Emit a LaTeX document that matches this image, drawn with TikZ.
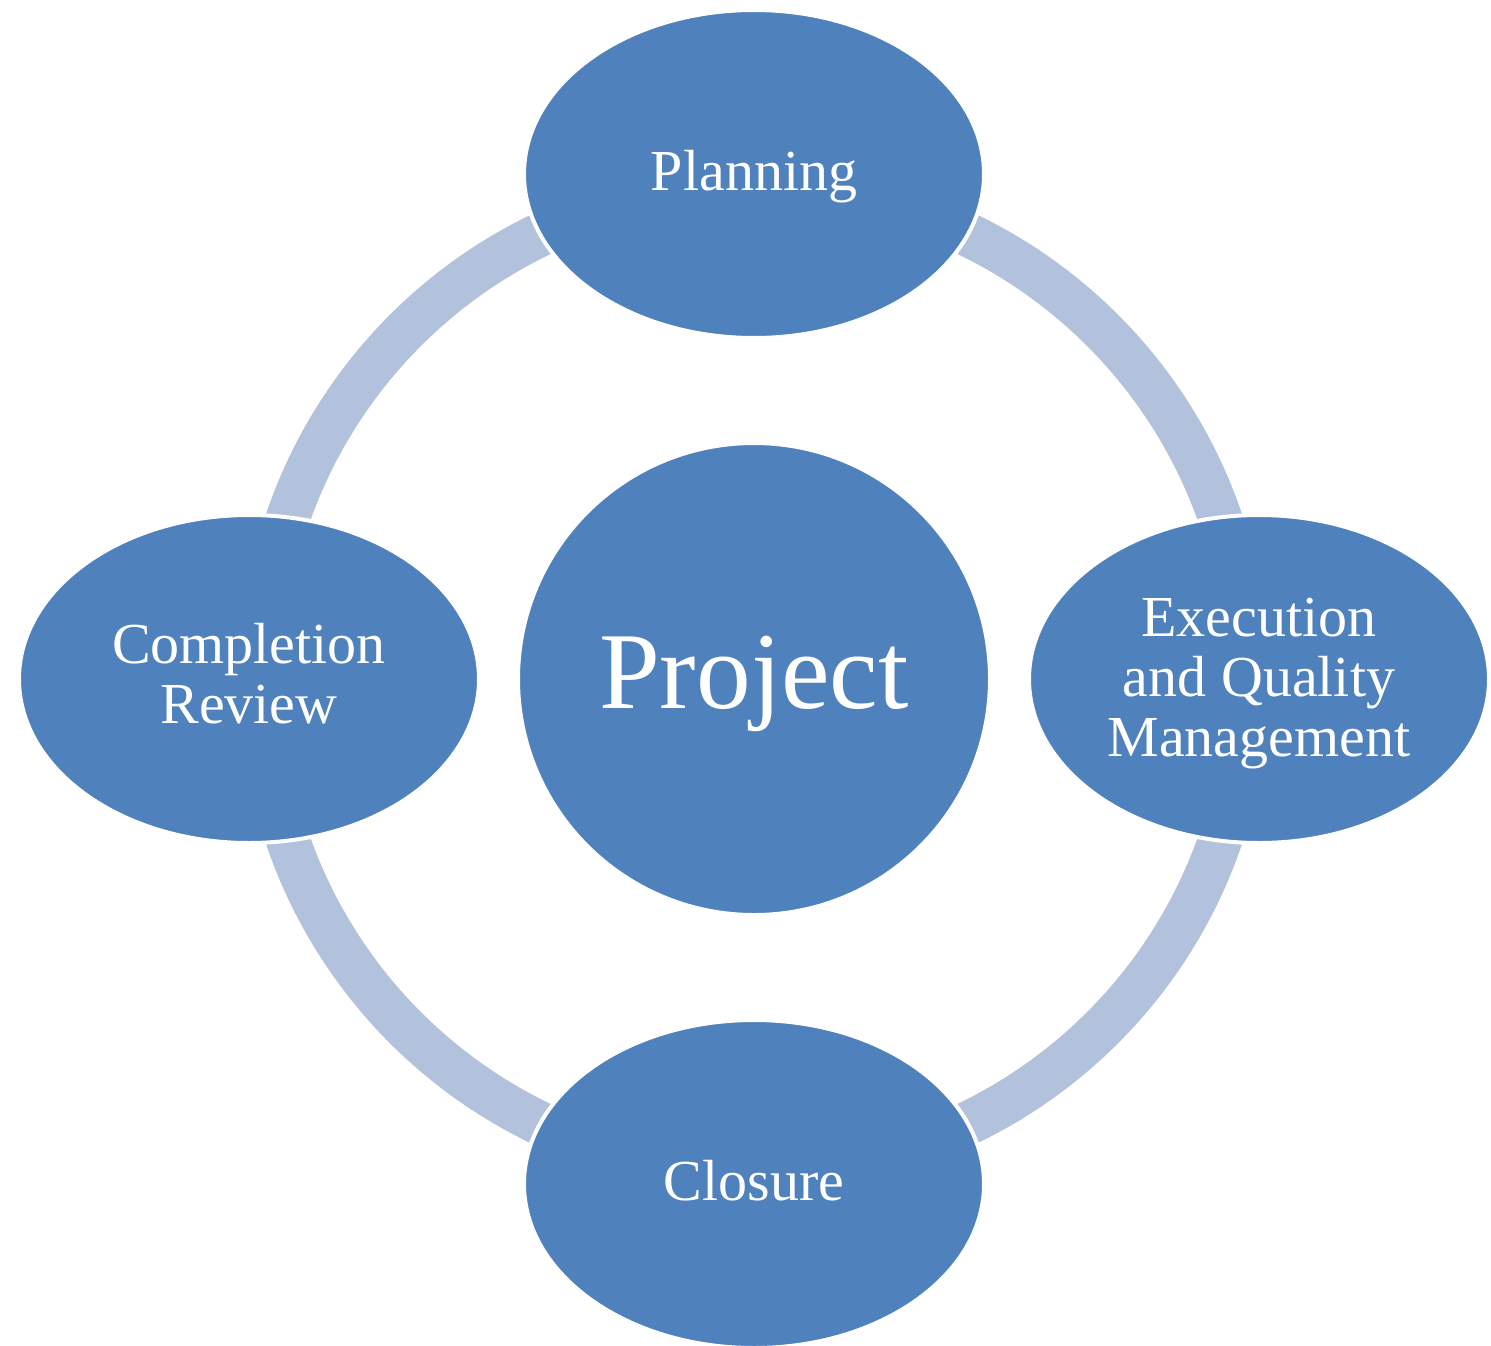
\documentclass[tikz,border=0pt]{standalone}
\usepackage{fontspec}
\setmainfont{Liberation Serif}
\usetikzlibrary{shapes.geometric}
\definecolor{nodeblue}{HTML}{4F81BD}
\definecolor{ringblue}{HTML}{B2C1DC}
\newcommand{\lowertext}[2]{\raisebox{-#1}[\height][\depth]{\begin{tabular}{@{}c@{}}#2\end{tabular}}}
\tikzset{
  phase/.style={ellipse, fill=nodeblue, draw=white, line width=3pt,
    minimum width=345pt, minimum height=246pt, inner sep=0pt,
    text=white, align=center, font=\fontsize{43.5}{45}\selectfont},
  hub/.style={circle, fill=nodeblue, draw=white, line width=2pt,
    minimum size=353pt, inner sep=0pt, text=white,
    font=\fontsize{82}{86}\selectfont},
  ring/.style={draw=ringblue, line width=33pt}
}
\begin{document}
\begin{tikzpicture}[x=0.75pt,y=-0.75pt]
\useasboundingbox (0,0) rectangle (1491,1345);
\coordinate (c) at (754,679);
\draw[ring] (c) circle (493);
\node[hub] (project) at (c) {\lowertext{5pt}{Project}};
\node[phase] (planning) at (754,174) {\lowertext{3.5pt}{Planning}};
\node[phase] (execution) at (1259,679) {\lowertext{4pt}{Execution\\and Quality\\Management}};
\node[phase] (closure) at (754,1184) {\lowertext{3.5pt}{Closure}};
\node[phase] (review) at (249,679) {\lowertext{2pt}{Completion\\Review}};
\end{tikzpicture}
\end{document}
